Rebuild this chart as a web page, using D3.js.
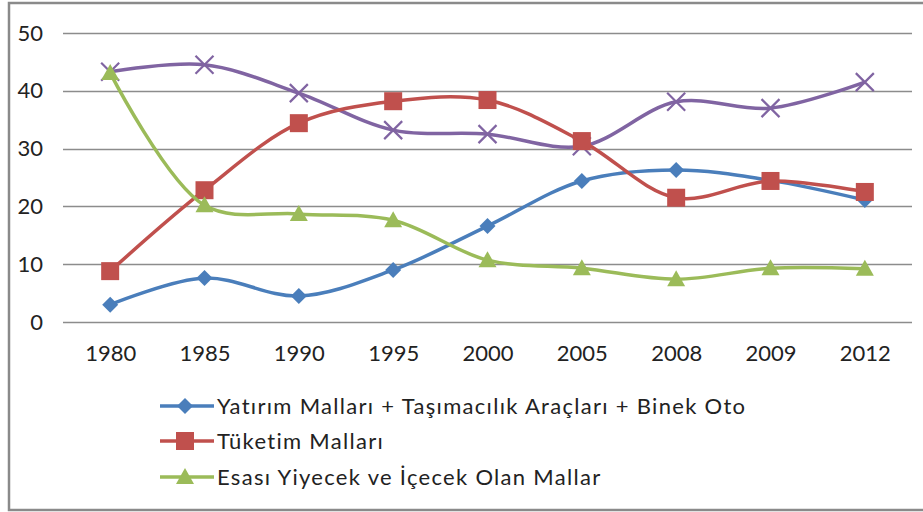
<!DOCTYPE html>
<html lang="en">
<head>
  <meta charset="UTF-8">
  <script src="https://d3js.org/d3.v7.min.js"></script>
  <title>Chart</title>
  <style>
    body { margin: 0; background: #fff; }
    text { font-family: Lato, "Open Sans", sans-serif; fill: #222; }
  </style>
</head>
<body>
  <script type="text/javascript">

    // data
    var years = ["1980", "1985", "1990", "1995", "2000", "2005", "2008", "2009", "2012"];
    var yatirim = [3.0, 7.6, 4.5, 9.0, 16.6, 24.4, 26.3, 24.5, 21.1];
    var tuketim = [8.8, 22.8, 34.4, 38.2, 38.4, 31.3, 21.5, 24.4, 22.5];
    var esasi = [43.1, 20.2, 18.7, 17.6, 10.7, 9.3, 7.4, 9.3, 9.2];
    var diger = [43.3, 44.5, 39.6, 33.2, 32.5, 30.4, 38.1, 37.0, 41.5];
    var yTicks = [0, 10, 20, 30, 40, 50];
    var seriesNames = [
      "Yatırım Malları + Taşımacılık Araçları + Binek Oto",
      "Tüketim Malları",
      "Esası Yiyecek ve İçecek Olan Mallar"
    ];

    var W = 923, H = 512;
    var margin = { top: 33, left: 63, right: 11, bottom: 190 };

    var svg = d3.select("body").append("svg")
      .attr("width", W)
      .attr("height", H);

    // outer frame
    svg.append("rect")
      .attr("x", 9).attr("y", 3)
      .attr("width", 940).attr("height", 507)
      .attr("fill", "none")
      .attr("stroke", "#8a8a8a")
      .attr("stroke-width", 2.5);

    var x = d3.scalePoint()
      .domain(years)
      .range([margin.left, W - margin.right])
      .padding(0.5);
    var y = d3.scaleLinear()
      .domain([0, 50])
      .range([322, margin.top]);

    // grid lines
    svg.append("g")
      .selectAll("line")
      .data(yTicks)
      .enter()
      .append("line")
      .attr("x1", margin.left)
      .attr("x2", W - margin.right)
      .attr("y1", function (d) { return Math.round(y(d)) + 0.5; })
      .attr("y2", function (d) { return Math.round(y(d)) + 0.5; })
      .attr("stroke", "#8c8c8c")
      .attr("stroke-width", 1.3);

    // y axis labels
    var yAxis = d3.axisLeft(y).tickValues(yTicks).tickSize(0).tickPadding(0);
    var gy = svg.append("g")
      .attr("transform", "translate(43,0)")
      .call(yAxis);
    gy.select(".domain").remove();
    gy.selectAll("text")
      .attr("font-size", 22)
      .attr("font-family", "Lato, sans-serif")
      .attr("fill", "#222");

    // x axis labels
    var xAxis = d3.axisBottom(x).tickSize(0).tickPadding(0);
    var gx = svg.append("g")
      .attr("transform", "translate(0,345)")
      .call(xAxis);
    gx.select(".domain").remove();
    gx.selectAll("text")
      .attr("font-size", 22)
      .attr("font-family", "Lato, sans-serif")
      .attr("fill", "#222");

    var series = [
      { values: diger, color: "#8064A2", marker: "x" },
      { values: yatirim, color: "#4A7EBB", marker: "diamond" },
      { values: tuketim, color: "#C0504D", marker: "square" },
      { values: esasi, color: "#9BBB59", marker: "triangle" }
    ];

    var line = d3.line()
      .x(function (d, i) { return x(years[i]); })
      .y(function (d) { return y(d); })
      .curve(d3.curveCatmullRom.alpha(0.5));

    function markerPath(type) {
      if (type === "diamond") return "M0,-8L8,0L0,8L-8,0Z";
      if (type === "square") return "M-9,-9H9V9H-9Z";
      if (type === "triangle") return "M0,-9L9,7L-9,7Z";
      return "M-9,-9L9,9M-9,9L9,-9";
    }

    function drawMarker(g, type, color, cx, cy) {
      var p = g.append("path")
        .attr("d", markerPath(type))
        .attr("transform", "translate(" + cx + "," + cy + ")");
      if (type === "x") {
        p.attr("fill", "none").attr("stroke", color).attr("stroke-width", 2.2);
      } else {
        p.attr("fill", color);
      }
    }

    series.forEach(function (s) {
      var g = svg.append("g");
      g.append("path")
        .datum(s.values)
        .attr("d", line)
        .attr("fill", "none")
        .attr("stroke", s.color)
        .attr("stroke-width", 3.5);
      s.values.forEach(function (v, i) {
        drawMarker(g, s.marker, s.color, x(years[i]), y(v));
      });
    });

    // legend (three entries only, as in the original)
    var legendY = [406, 441, 477];
    series.slice(1).forEach(function (s, i) {
      var g = svg.append("g").attr("transform", "translate(0," + legendY[i] + ")");
      g.append("line")
        .attr("x1", 160).attr("x2", 214)
        .attr("y1", 0).attr("y2", 0)
        .attr("stroke", s.color)
        .attr("stroke-width", 3.5);
      drawMarker(g, s.marker, s.color, 185, 0);
      g.append("text")
        .attr("x", 217)
        .attr("y", 8)
        .attr("font-size", 22)
        .attr("letter-spacing", 1.3)
        .text(seriesNames[i]);
    });

  </script>
</body>
</html>
